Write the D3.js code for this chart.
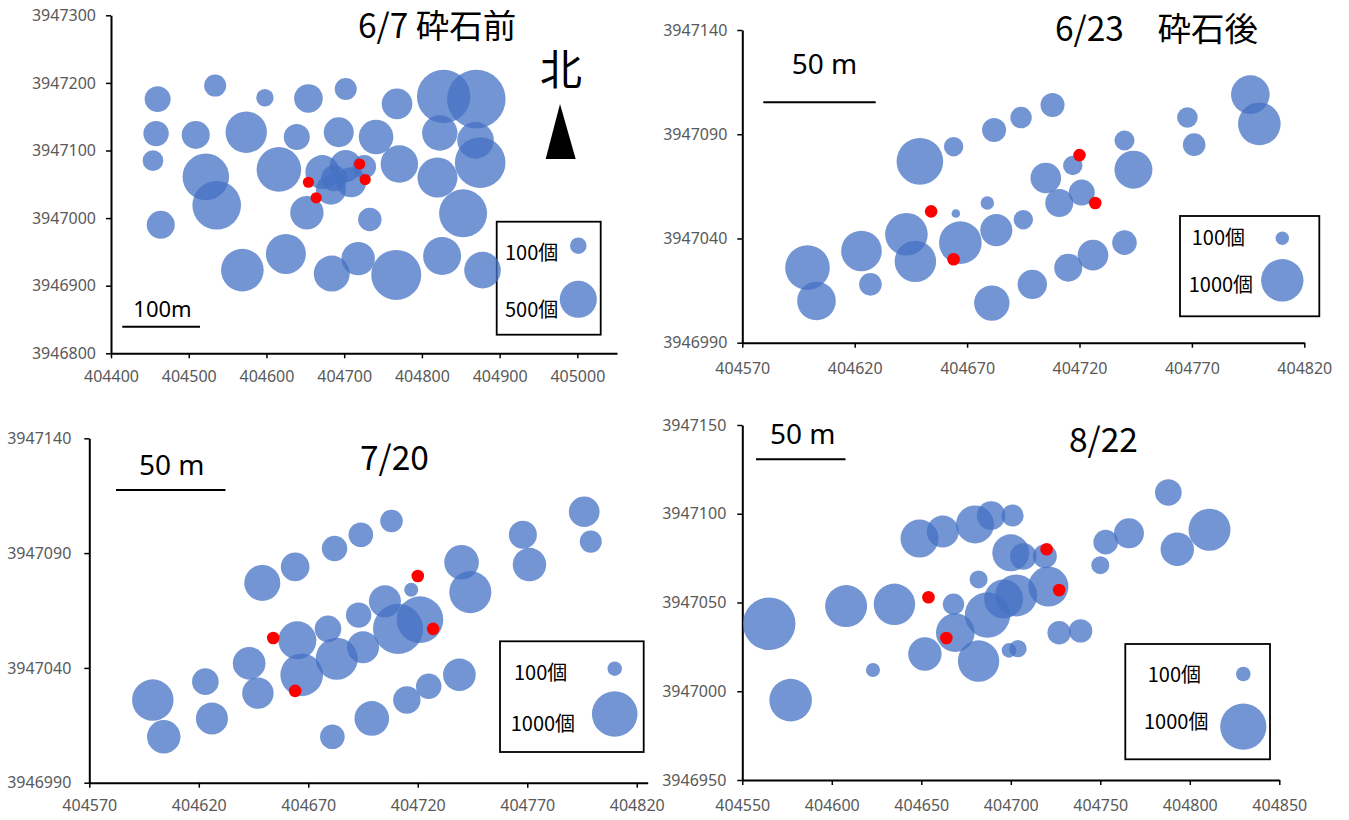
<!DOCTYPE html>
<html>
<head>
<meta charset="utf-8">
<script src="https://cdn.jsdelivr.net/npm/d3@7"></script>
<style>
  html, body { margin: 0; padding: 0; background: #fff; }
  svg { display: block; }
</style>
</head>
<body>
<svg id="chart" width="1349" height="820"></svg>
<script>
// ---------------- DATA ----------------
// [x (easting), y (northing), count]
const bubbles0607 = [
  [404460,3947176,245],[404534,3947196,176],[404598,3947178,110],[404654,3947177,297],
  [404702,3947191,176],[404458,3947125,234],[404509,3947123,285],[404574,3947127,622],
  [404639,3947120,245],[404693,3947127,327],[404454,3947085,154],[404522,3947061,788],
  [404536,3947019,857],[404616,3947072,722],[404672,3947068,420],[404702,3947077,372],
  [404683,3947042,327],[404709,3947053,327],[404726,3947076,199],[404687,3947059,245],
  [404464,3946990,285],[404652,3947008,405],[404569,3946923,659],[404625,3946947,581],
  [404684,3946918,470],[404718,3946940,405],[404733,3946998,199],[404768,3947169,340],
  [404828,3947180,1035],[404870,3947176,1246],[404741,3947120,434],[404823,3947126,455],
  [404869,3947115,486],[404771,3947080,508],[404820,3947060,581],[404875,3947082,929],
  [404853,3947007,836],[404767,3946916,907],[404826,3946944,524],[404878,3946923,486]
];
const bubbles0623 = [
  [404599,3947026,1108],[404603,3947010,830],[404623,3947034,918],[404627,3947018,284],
  [404643,3947042,1011],[404647,3947029,955],[404649,3947077,1210],[404664,3947084,210],
  [404665,3947052,41],[404667,3947038,1011],[404679,3947057,100],[404683,3947044,570],
  [404681,3947009,698],[404682,3947092,321],[404694,3947098,255],[404708,3947104,321],
  [404705,3947069,522],[404717,3947075,210],[404711,3947057,437],[404721,3947062,377],
  [404695,3947049,210],[404740,3947087,223],[404744,3947073,804],[404768,3947098,236],
  [404771,3947085,284],[404796,3947109,830],[404800,3947095,1011],[404699,3947018,481],
  [404715,3947026,437],[404726,3947032,522],[404740,3947038,337]
];
const bubbles0720 = [
  [404599,3947026,827],[404604,3947010,538],[404623,3947034,341],[404626,3947018,494],
  [404643,3947042,513],[404647,3947029,475],[404649,3947077,625],[404664,3947084,394],
  [404665,3947052,696],[404667,3947037,875],[404679,3947057,341],[404683,3947044,851],
  [404682,3947092,311],[404694,3947098,292],[404681,3947010,292],[404693,3947063,311],
  [404695,3947049,494],[404708,3947104,246],[404705,3947069,494],[404717,3947074,95],
  [404711,3947057,1206],[404721,3947061,1047],[404699,3947018,577],[404715,3947026,362],
  [404725,3947032,311],[404739,3947037,513],[404740,3947086,577],[404744,3947073,851],
  [404768,3947098,378],[404771,3947085,538],[404796,3947108,452],[404799,3947095,233]
];
const bubbles0822 = [
  [404565,3947038,1298],[404577,3946995,851],[404608,3947048,827],[404635,3947049,804],
  [404623,3947012,92],[404649,3947086,677],[404662,3947090,480],[404680,3947094,677],
  [404689,3947099,384],[404701,3947099,227],[404700,3947078,642],[404707,3947076,332],
  [404719,3947076,270],[404682,3947063,152],[404668,3947049,215],[404669,3947033,699],
  [404687,3947043,967],[404652,3947021,523],[404682,3947017,804],[404699,3947023,100],
  [404704,3947024,142],[404696,3947052,713],[404703,3947054,827],[404721,3947059,750],
  [404727,3947033,257],[404739,3947034,257],[404750,3947071,152],[404753,3947084,284],
  [404766,3947089,422],[404788,3947112,332],[404793,3947080,523],[404811,3947091,827]
];
// red marker points (same in all panels)
const redPoints = [[404654,3947053],[404664,3947030],[404720,3947080],[404727,3947057]];

// tick labels
const xTicks0607 = [404400,404500,404600,404700,404800,404900,405000];
const yTicks0607 = [3946800,3946900,3947000,3947100,3947200,3947300];
const xTicks0623 = [404570,404620,404670,404720,404770,404820];
const yTicks0623 = [3946990,3947040,3947090,3947140];
const xTicks0720 = [404570,404620,404670,404720,404770,404820];
const yTicks0720 = [3946990,3947040,3947090,3947140];
const xTicks0822 = [404550,404600,404650,404700,404750,404800,404850];
const yTicks0822 = [3946950,3947000,3947050,3947100,3947150];

// legend values & texts
const legend0607 = [100, 500];
const legendLabels0607 = ["100個", "500個"];
const legendVals = [100, 1000];
const legendLabels = ["100個", "1000個"];

const titles = ["6/7 砕石前", "6/23\u3000砕石後", "7/20", "8/22"];
const scaleTexts = ["100m", "50 m", "50 m", "50 m"];
const scaleLengths = [100, 50, 50, 50];

// ---------------- LAYOUT ----------------
const panels = [
  { data: bubbles0607, xt: xTicks0607, yt: yTicks0607,
    xd: [404400, 405051], xr: [111, 617], yd: [3946800, 3947300], yr: [353.3, 15.3],
    rMax: 26.25, redR: 5.6, yPad: 10, xPad: 12,
    title: titles[0], titlePos: [358, 38],
    sb: { x: 122.3, y: 326.7, tx: 133.3, ty: 317.3, fs: 22, text: scaleTexts[0], len: scaleLengths[0] },
    legend: { box: [496.7, 221.7, 104, 113], vals: legend0607, labels: legendLabels0607,
              bx: 578.3, by: [245.7, 299.3], tx: [505, 505], ty: [260, 317] } },
  { data: bubbles0623, xt: xTicks0623, yt: yTicks0623,
    xd: [404570, 404820], xr: [742.3, 1304.3], yd: [3946990, 3947140], yr: [342.7, 30],
    rMax: 21.2, redR: 6.3, yPad: 10, xPad: 15,
    title: titles[1], titlePos: [1055, 41],
    sb: { x: 763.3, y: 102.3, tx: 791.7, ty: 74.3, fs: 28, text: scaleTexts[1], len: scaleLengths[1] },
    legend: { box: [1180, 216, 139.3, 100.3], vals: legendVals, labels: legendLabels,
              bx: 1282.3, by: [238.3, 280.3], tx: [1191.7, 1188.7], ty: [245, 291.7] } },
  { data: bubbles0720, xt: xTicks0720, yt: yTicks0720,
    xd: [404570, 404825], xr: [89.3, 647.7], yd: [3946990, 3947140], yr: [782.7, 438.3],
    rMax: 22.8, redR: 6.3, yPad: 13, xPad: 12,
    title: titles[2], titlePos: [360, 470],
    sb: { x: 116, y: 490, tx: 139, ty: 475, fs: 28, text: scaleTexts[2], len: scaleLengths[2] },
    legend: { box: [500, 641.3, 143.7, 110.7], vals: legendVals, labels: legendLabels,
              bx: 614.7, by: [668.7, 714], tx: [514, 510.7], ty: [680, 731] } },
  { data: bubbles0822, xt: xTicks0822, yt: yTicks0822,
    xd: [404550, 404850], xr: [742.3, 1279.3], yd: [3946950, 3947150], yr: [780, 425],
    rMax: 23.1, redR: 6.3, yPad: 11, xPad: 15,
    title: titles[3], titlePos: [1069, 452],
    sb: { x: 756, y: 459.3, tx: 770, ty: 444.3, fs: 28, text: scaleTexts[3], len: scaleLengths[3] },
    legend: { box: [1125.3, 644, 144.7, 115.3], vals: legendVals, labels: legendLabels,
              bx: 1243.3, by: [674, 726.7], tx: [1147.7, 1144], ty: [681.7, 729.3] } }
];

const svg = d3.select("#chart");
const BUBBLE = "#4472C4";
const TICKFONT = "'Noto Sans', 'DejaVu Sans', sans-serif";
const JPFONT = "'Noto Sans CJK JP', 'Noto Sans', sans-serif";

panels.forEach(p => {
  const g = svg.append("g");
  const x = d3.scaleLinear().domain(p.xd).range(p.xr);
  const y = d3.scaleLinear().domain(p.yd).range(p.yr);
  const r = d3.scaleSqrt().domain([0, 1000]).range([0, p.rMax]);

  // axes
  const ya = g.append("g").attr("transform", `translate(${p.xr[0]},0)`)
    .call(d3.axisLeft(y).tickValues(p.yt).tickFormat(d3.format("d"))
      .tickSize(5).tickSizeOuter(0).tickPadding(p.yPad));
  const xa = g.append("g").attr("transform", `translate(0,${p.yr[0]})`)
    .call(d3.axisBottom(x).tickValues(p.xt).tickFormat(d3.format("d"))
      .tickSize(5).tickSizeOuter(0).tickPadding(p.xPad));
  [ya, xa].forEach(a => {
    a.select(".domain").attr("stroke", "#000").attr("stroke-width", 2);
    a.selectAll(".tick line").attr("stroke", "#000").attr("stroke-width", 1.5);
    a.selectAll(".tick text").attr("fill", "#595959")
      .style("font-family", TICKFONT).style("font-size", "16px");
  });

  // legend box
  const L = p.legend;
  g.append("rect").attr("x", L.box[0]).attr("y", L.box[1])
    .attr("width", L.box[2]).attr("height", L.box[3])
    .attr("fill", "none").attr("stroke", "#000").attr("stroke-width", 1.8);
  L.vals.forEach((v, i) => {
    g.append("circle").attr("cx", L.bx).attr("cy", L.by[i]).attr("r", r(v))
      .attr("fill", BUBBLE).attr("fill-opacity", 0.75);
    g.append("text").attr("x", L.tx[i]).attr("y", L.ty[i]).text(L.labels[i])
      .style("font-family", JPFONT).style("font-size", "20px").attr("fill", "#000");
  });

  // bubbles
  g.append("g").selectAll("circle").data(p.data).join("circle")
    .attr("cx", d => x(d[0])).attr("cy", d => y(d[1])).attr("r", d => r(d[2]))
    .attr("fill", BUBBLE).attr("fill-opacity", 0.75);

  // red points
  g.append("g").selectAll("circle").data(redPoints).join("circle")
    .attr("cx", d => x(d[0])).attr("cy", d => y(d[1])).attr("r", p.redR)
    .attr("fill", "#FF0000");

  // title
  g.append("text").attr("x", p.titlePos[0]).attr("y", p.titlePos[1]).text(p.title)
    .style("font-family", JPFONT).style("font-size", "33.5px").attr("fill", "#000");

  // scale bar
  const sbw = x(p.xd[0] + p.sb.len) - x(p.xd[0]);
  g.append("line").attr("x1", p.sb.x).attr("x2", p.sb.x + sbw)
    .attr("y1", p.sb.y).attr("y2", p.sb.y).attr("stroke", "#000").attr("stroke-width", 2);
  g.append("text").attr("x", p.sb.tx).attr("y", p.sb.ty).text(p.sb.text)
    .style("font-family", TICKFONT).style("font-size", p.sb.fs + "px").attr("fill", "#000");
});

// north arrow (panel 1)
svg.append("text").attr("x", 561).attr("y", 85).attr("text-anchor", "middle").text("北")
  .style("font-family", JPFONT).style("font-size", "42px").attr("fill", "#000");
svg.append("path").attr("d", "M560,104 L575.7,159 L545.7,159 Z").attr("fill", "#000");
</script>
</body>
</html>
